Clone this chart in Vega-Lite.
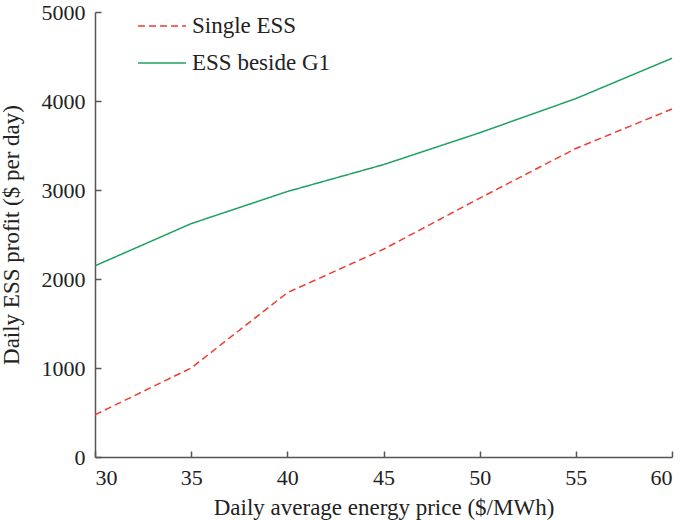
{
  "$schema": "https://vega.github.io/schema/vega-lite/v6.json",
  "autosize": {"type": "none"},
  "padding": {"left": 95, "top": 12, "right": 13, "bottom": 63},
  "width": 577,
  "height": 445,
  "background": "white",
  "config": {
    "view": {"stroke": null},
    "font": "Liberation Serif",
    "axis": {
      "grid": false,
      "domainColor": "#555555",
      "domainWidth": 1.5,
      "tickColor": "#555555",
      "tickWidth": 1.5,
      "tickSize": -6,
      "labelFont": "Liberation Serif",
      "labelFontSize": 22,
      "labelColor": "#222222",
      "titleFont": "Liberation Serif",
      "titleFontSize": 23,
      "titleFontWeight": "normal",
      "titleColor": "#222222"
    }
  },
  "data": {
    "values": [
      {"price": 30, "profit": 474, "series": "Single ESS"},
      {"price": 35, "profit": 1000, "series": "Single ESS"},
      {"price": 40, "profit": 1846, "series": "Single ESS"},
      {"price": 45, "profit": 2334, "series": "Single ESS"},
      {"price": 50, "profit": 2908, "series": "Single ESS"},
      {"price": 55, "profit": 3467, "series": "Single ESS"},
      {"price": 60, "profit": 3910, "series": "Single ESS"},
      {"price": 30, "profit": 2148, "series": "ESS beside G1"},
      {"price": 35, "profit": 2622, "series": "ESS beside G1"},
      {"price": 40, "profit": 2983, "series": "ESS beside G1"},
      {"price": 45, "profit": 3285, "series": "ESS beside G1"},
      {"price": 50, "profit": 3643, "series": "ESS beside G1"},
      {"price": 55, "profit": 4027, "series": "ESS beside G1"},
      {"price": 60, "profit": 4480, "series": "ESS beside G1"}
    ]
  },
  "mark": {"type": "line", "strokeWidth": 1.5},
  "encoding": {
    "x": {
      "field": "price",
      "type": "quantitative",
      "scale": {"domain": [30, 60], "nice": false, "zero": false},
      "axis": {"values": [30, 35, 40, 45, 50, 55, 60], "format": "d", "title": "Daily average energy price ($/MWh)", "labelPadding": 16, "titlePadding": 8}
    },
    "y": {
      "field": "profit",
      "type": "quantitative",
      "scale": {"domain": [0, 5000], "nice": false},
      "axis": {"values": [0, 1000, 2000, 3000, 4000, 5000], "format": "d", "title": "Daily ESS profit ($ per day)", "labelPadding": 16, "titlePadding": 18}
    },
    "color": {
      "field": "series",
      "type": "nominal",
      "scale": {"domain": ["Single ESS", "ESS beside G1"], "range": ["#f03c32", "#1fa060"]},
      "legend": {
        "title": null,
        "orient": "none",
        "legendX": 42,
        "legendY": -11,
        "symbolType": "stroke",
        "symbolSize": 2300,
        "symbolStrokeWidth": 1.5,
        "labelFont": "Liberation Serif",
        "labelFontSize": 23,
        "labelColor": "#222222",
        "rowPadding": -24,
        "labelOffset": 5
      }
    },
    "strokeDash": {
      "field": "series",
      "type": "nominal",
      "scale": {"domain": ["Single ESS", "ESS beside G1"], "range": [[7, 4], [1, 0]]},
      "legend": {
        "title": null,
        "orient": "none",
        "legendX": 42,
        "legendY": -11,
        "symbolType": "stroke",
        "symbolSize": 2300,
        "symbolStrokeWidth": 1.5,
        "labelFont": "Liberation Serif",
        "labelFontSize": 23,
        "labelColor": "#222222",
        "rowPadding": -24,
        "labelOffset": 5
      }
    }
  }
}
